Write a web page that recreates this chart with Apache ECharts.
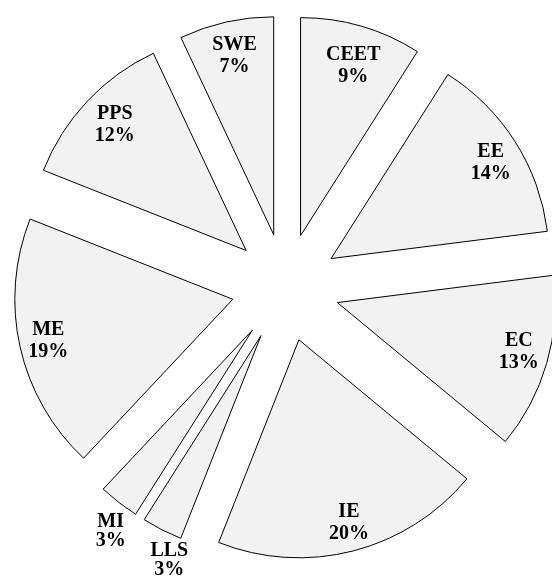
<!DOCTYPE html>
<html>
<head>
<meta charset="utf-8">
<script src="https://cdn.jsdelivr.net/npm/echarts@6/dist/echarts.min.js"></script>
<style>
  html, body { margin: 0; padding: 0; background: #fff; }
  #chart { width: 552px; height: 579px; }
</style>
</head>
<body>
<div id="chart"></div>
<script>
// slices clockwise from 12 o'clock
const categories = ['CEET', 'EE', 'EC', 'IE', 'LLS', 'MI', 'ME', 'PPS', 'SWE'];
const shares = [9, 14, 13, 20, 3, 3, 19, 12, 7];
// thin slices get their label just outside the arc
const outsideLabels = ['LLS', 'MI'];

const sliceFill = '#f2f2f2';
const pieCenter = [285.5, 287.5];
const pieRadius = 218;
const explode = 54;
// hand placed labels in the original, small shifts per slice (same order as categories)
const labelNudge = [[0, 12], [0, 6], [0, -3.5], [3, -0.5], [20, 6], [9, 7], [0, 0], [6.5, 3.5], [2, 5.5]];

const chart = echarts.init(document.getElementById('chart'), null, { renderer: 'canvas' });

const labelFont = (lh) => ({
  position: 'inside',
  color: '#000',
  fontFamily: '"Liberation Serif", "Times New Roman", serif',
  fontWeight: 'bold',
  fontSize: 20,
  lineHeight: lh,
  formatter: p => p.name + '\n' + p.value + '%'
});

const makeData = (showFn) => categories.map((name, i) => ({
  name: name,
  value: shares[i],
  selected: true,
  label: { show: showFn(name) }
}));

const nudge = (params) => {
  const n = labelNudge[params.dataIndex];
  return { dx: n[0], dy: n[1] };
};

const baseSeries = {
  type: 'pie',
  center: pieCenter,
  startAngle: 90,
  clockwise: true,
  selectedMode: 'multiple',
  selectedOffset: explode,
  avoidLabelOverlap: false,
  silent: true,
  emphasis: { disabled: true, scale: false },
  labelLine: { show: false }
};

// label holders: invisible rings, labels sit at the middle of the ring
const ghostStyle = { color: 'transparent', borderWidth: 0 };

const option = {
  animation: false,
  series: [
    Object.assign({}, baseSeries, {
      name: 'share',
      radius: [0, pieRadius],
      itemStyle: { color: sliceFill, borderColor: '#000', borderWidth: 1 },
      select: { itemStyle: { color: sliceFill, borderColor: '#000', borderWidth: 1 } },
      label: { show: false },
      data: makeData(() => false)
    }),
    Object.assign({}, baseSeries, {
      name: 'labels-in',
      radius: [150, 222],
      itemStyle: ghostStyle,
      select: { itemStyle: ghostStyle },
      label: labelFont(22),
      labelLayout: nudge,
      data: makeData(n => outsideLabels.indexOf(n) < 0)
    }),
    Object.assign({}, baseSeries, {
      name: 'labels-out',
      radius: [220, 266],
      itemStyle: ghostStyle,
      select: { itemStyle: ghostStyle },
      label: labelFont(19),
      labelLayout: nudge,
      data: makeData(n => outsideLabels.indexOf(n) >= 0)
    })
  ]
};

chart.setOption(option);
</script>
</body>
</html>
